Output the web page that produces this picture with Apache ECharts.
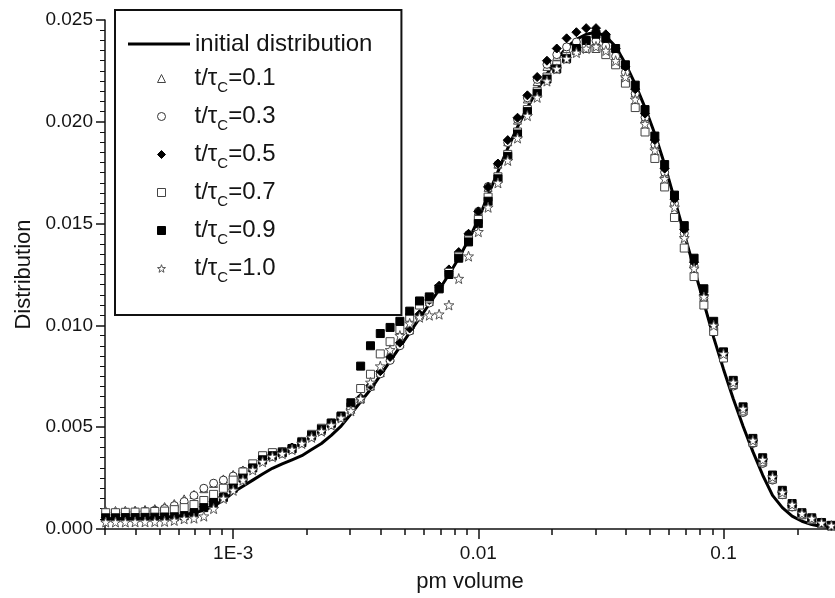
<!DOCTYPE html>
<html>
<head>
<meta charset="utf-8">
<script src="https://cdn.jsdelivr.net/npm/echarts/dist/echarts.min.js"></script>
<style>
html,body{margin:0;padding:0;background:#fff;}
#chart{width:835px;height:598px;}
</style>
</head>
<body>
<div id="chart"></div>
<script>
// ---- data ----
const xBins = [0.000302,0.000331,0.000363,0.000398,0.000437,0.000479,0.000525,0.000575,0.000631,0.000692,
  0.000759,0.000832,0.000912,0.001,0.001096,0.001202,0.001318,0.001445,0.001585,0.001738,
  0.001905,0.002089,0.002291,0.002512,0.002754,0.00302,0.003311,0.003631,0.003981,0.004365,
  0.004786,0.005248,0.005754,0.00631,0.006918,0.007586,0.008318,0.00912,0.01,0.01096,
  0.01202,0.01318,0.01445,0.01585,0.01738,0.01905,0.02089,0.02291,0.02512,0.02754,
  0.0302,0.03311,0.03631,0.03981,0.04365,0.04786,0.05248,0.05754,0.0631,0.06918,
  0.07586,0.08318,0.0912,0.1,0.1096,0.1202,0.1318,0.1445,0.1585,0.1738,
  0.1905,0.2089,0.2291,0.2512,0.2754];

const initialDist = [0.00050,0.00050,0.00051,0.00052,0.00053,0.00055,0.00058,0.00062,0.00068,0.00078,
  0.00093,0.00113,0.00140,0.00180,0.00210,0.00240,0.00270,0.00298,0.00320,0.00340,
  0.00360,0.00390,0.00420,0.00460,0.00505,0.00565,0.00625,0.00685,0.00755,0.00825,
  0.00895,0.00965,0.01035,0.01105,0.01175,0.01250,0.01330,0.01420,0.01520,0.01640,
  0.01755,0.01870,0.01975,0.02070,0.02155,0.02235,0.02305,0.02365,0.02405,0.02430,
  0.02440,0.02420,0.02370,0.02285,0.02185,0.02070,0.01940,0.01790,0.01620,0.01450,
  0.01280,0.01110,0.00940,0.00785,0.00640,0.00505,0.00380,0.00265,0.00165,0.00105,
  0.00063,0.00038,0.00022,0.00012,0.00007];

const t01 = [0.00090,0.00091,0.00092,0.00093,0.00096,0.00100,0.00110,0.00125,0.00148,0.00170,
  0.00198,0.00224,0.00246,0.00268,0.00290,0.00312,0.00338,0.00358,0.00374,0.00394,
  0.00424,0.00456,0.00484,0.00516,0.00552,0.00588,0.00640,0.00702,0.00768,0.00842,
  0.00912,0.00978,0.01052,0.01118,0.01192,0.01272,0.01358,0.01452,0.01562,0.01678,
  0.01792,0.01902,0.02008,0.02112,0.02198,0.02272,0.02322,0.02356,0.02378,0.02392,
  0.02388,0.02366,0.02318,0.02238,0.02142,0.02018,0.01892,0.01748,0.01602,0.01448,
  0.01298,0.01142,0.00988,0.00852,0.00708,0.00582,0.00430,0.00330,0.00248,0.00172,
  0.00112,0.00072,0.00048,0.00028,0.00016];

const t03 = [0.00080,0.00080,0.00082,0.00084,0.00087,0.00092,0.00100,0.00115,0.00135,0.00165,
  0.00200,0.00225,0.00240,0.00260,0.00285,0.00310,0.00340,0.00362,0.00380,0.00400,
  0.00430,0.00460,0.00490,0.00520,0.00548,0.00592,0.00638,0.00698,0.00762,0.00828,
  0.00900,0.00972,0.01042,0.01110,0.01186,0.01266,0.01350,0.01446,0.01560,0.01682,
  0.01790,0.01898,0.02012,0.02118,0.02208,0.02282,0.02330,0.02368,0.02392,0.02402,
  0.02398,0.02372,0.02322,0.02242,0.02138,0.02022,0.01888,0.01752,0.01598,0.01452,
  0.01292,0.01132,0.00982,0.00840,0.00702,0.00572,0.00420,0.00322,0.00240,0.00168,
  0.00108,0.00068,0.00045,0.00026,0.00014];

const t05 = [0.00058,0.00058,0.00057,0.00058,0.00058,0.00059,0.00058,0.00059,0.00060,0.00080,
  0.00110,0.00135,0.00160,0.00220,0.00270,0.00310,0.00345,0.00365,0.00380,0.00400,
  0.00425,0.00455,0.00485,0.00515,0.00550,0.00590,0.00645,0.00705,0.00775,0.00845,
  0.00915,0.00985,0.01055,0.01125,0.01195,0.01275,0.01360,0.01450,0.01560,0.01680,
  0.01795,0.01910,0.02020,0.02130,0.02220,0.02300,0.02360,0.02410,0.02440,0.02460,
  0.02460,0.02430,0.02360,0.02270,0.02160,0.02040,0.01910,0.01770,0.01620,0.01470,
  0.01310,0.01150,0.01000,0.00860,0.00720,0.00590,0.00435,0.00340,0.00255,0.00180,
  0.00115,0.00074,0.00050,0.00030,0.00016];

const t07 = [0.00080,0.00080,0.00082,0.00083,0.00084,0.00086,0.00088,0.00095,0.00105,0.00120,
  0.00140,0.00170,0.00200,0.00240,0.00280,0.00320,0.00360,0.00375,0.00380,0.00395,
  0.00430,0.00465,0.00495,0.00520,0.00550,0.00600,0.00690,0.00760,0.00860,0.00920,
  0.00980,0.01040,0.01100,0.01130,0.01180,0.01260,0.01340,0.01420,0.01520,0.01630,
  0.01730,0.01840,0.01950,0.02060,0.02150,0.02220,0.02280,0.02320,0.02350,0.02360,
  0.02360,0.02330,0.02280,0.02190,0.02070,0.01950,0.01820,0.01680,0.01530,0.01380,
  0.01240,0.01100,0.00970,0.00840,0.00710,0.00580,0.00425,0.00330,0.00245,0.00170,
  0.00110,0.00070,0.00046,0.00026,0.00015];

const t09 = [0.00055,0.00055,0.00056,0.00056,0.00057,0.00058,0.00059,0.00060,0.00065,0.00080,
  0.00105,0.00130,0.00155,0.00200,0.00250,0.00300,0.00340,0.00360,0.00375,0.00395,
  0.00425,0.00460,0.00490,0.00520,0.00555,0.00620,0.00800,0.00900,0.00960,0.00990,
  0.01020,0.01070,0.01120,0.01140,0.01180,0.01250,0.01330,0.01410,0.01500,0.01610,
  0.01720,0.01830,0.01940,0.02050,0.02140,0.02210,0.02260,0.02310,0.02360,0.02400,
  0.02430,0.02410,0.02360,0.02280,0.02180,0.02060,0.01930,0.01790,0.01640,0.01490,
  0.01330,0.01180,0.01020,0.00870,0.00730,0.00600,0.00445,0.00350,0.00265,0.00190,
  0.00125,0.00080,0.00055,0.00032,0.00018];

const t10 = [0.00034,0.00034,0.00034,0.00035,0.00035,0.00036,0.00037,0.00042,0.00050,0.00053,
  0.00063,0.00100,0.00150,0.00190,0.00240,0.00290,0.00330,0.00355,0.00370,0.00390,
  0.00420,0.00450,0.00480,0.00510,0.00545,0.00580,0.00640,0.00720,0.00800,0.00880,
  0.00950,0.01010,0.01040,0.01050,0.01055,0.01100,0.01230,0.01340,0.01460,0.01580,
  0.01700,0.01810,0.01920,0.02030,0.02120,0.02200,0.02260,0.02310,0.02340,0.02360,
  0.02370,0.02350,0.02300,0.02220,0.02110,0.01990,0.01860,0.01720,0.01580,0.01430,
  0.01280,0.01140,0.01000,0.00860,0.00720,0.00590,0.00435,0.00340,0.00255,0.00180,
  0.00120,0.00076,0.00052,0.00030,0.00017];

const tLabels = ['0.1', '0.3', '0.5', '0.7', '0.9', '1.0'];
const lineName = 'initial distribution';
const xTickValues = [0.001, 0.01, 0.1];
const xTickLabels = ['1E-3', '0.01', '0.1'];
const xMinorTicks = [0.0003,0.0004,0.0005,0.0006,0.0007,0.0008,0.0009,
  0.002,0.003,0.004,0.005,0.006,0.007,0.008,0.009,
  0.02,0.03,0.04,0.05,0.06,0.07,0.08,0.09,0.2];
const xAxisTitle = 'pm volume';
const yAxisTitle = 'Distribution';

// ---- chart ----
const FONT = '"Liberation Sans", Arial, sans-serif';
const INK = '#141414';
const starPath = 'path://M0,-10L2.35,-3.24L9.51,-3.09L3.8,1.24L5.88,8.09L0,4.2L-5.88,8.09L-3.8,1.24L-9.51,-3.09L-2.35,-3.24Z';

function pairs(ys) { return xBins.map((x, i) => [x, ys[i]]); }

const seriesValues = [t01, t03, t05, t07, t09, t10];
const markerStyles = [
  { symbol: 'triangle', size: 8, fill: '#fff', stroke: '#444' },
  { symbol: 'circle', size: 8, fill: '#fff', stroke: '#333' },
  { symbol: 'diamond', size: 9, fill: '#000', stroke: '#000' },
  { symbol: 'rect', size: 8, fill: '#fff', stroke: '#444' },
  { symbol: 'rect', size: 8, fill: '#000', stroke: '#000' },
  { symbol: starPath, size: 10, fill: '#fff', stroke: '#555' }
];
const seriesNames = tLabels.map(t => 't/τc=' + t);

const series = [{
  name: lineName,
  type: 'line',
  data: pairs(initialDist),
  symbol: 'none',
  showSymbol: false,
  lineStyle: { color: '#000', width: 3 },
  itemStyle: { color: '#000' },
  z: 1,
  silent: true
}];
seriesValues.forEach((vals, i) => {
  const st = markerStyles[i];
  series.push({
    name: seriesNames[i],
    type: 'scatter',
    data: pairs(vals),
    symbol: st.symbol,
    symbolSize: st.size,
    itemStyle: { color: st.fill, borderColor: st.stroke, borderWidth: 1, opacity: 1 },
    z: 2 + i,
    silent: true
  });
});

const richText = {
  a: { fontFamily: FONT, fontSize: 24, lineHeight: 26, color: INK, verticalAlign: 'middle' },
  s: { fontFamily: FONT, fontSize: 15, lineHeight: 16, color: INK, padding: [18, 0, 0, 0], verticalAlign: 'middle' }
};

const chart = echarts.init(document.getElementById('chart'), null, { renderer: 'canvas' });
chart.setOption({
  animation: false,
  backgroundColor: '#fff',
  textStyle: { fontFamily: FONT, color: INK },
  grid: { left: 105, right: 0, top: 20, bottom: 63, containLabel: false },
  legend: [{
    // framed box with the line entry
    orient: 'vertical',
    left: 115,
    top: 10,
    z: 4,
    padding: [22, 29, 259, 13],
    itemWidth: 62,
    itemHeight: 3,
    selectedMode: false,
    borderColor: '#111',
    borderWidth: 2,
    backgroundColor: '#fff',
    itemStyle: { borderWidth: 0 },
    data: [{ name: lineName, icon: 'rect' }],
    formatter: function (name) { return '{a|' + name + '}'; },
    textStyle: { fontFamily: FONT, fontSize: 24, color: INK, rich: richText }
  }, {
    // marker entries inside the same frame
    orient: 'vertical',
    left: 157,
    top: 62,
    z: 6,
    padding: 0,
    itemWidth: 8,
    itemHeight: 8,
    itemGap: 5,
    selectedMode: false,
    itemStyle: { borderWidth: 1 },
    data: seriesNames,
    formatter: function (name) {
      const i = seriesNames.indexOf(name);
      return '{a|t/τ}{s|C}{a|=' + tLabels[i] + '}';
    },
    textStyle: { fontFamily: FONT, fontSize: 24, color: INK, padding: [0, 0, 0, 24], rich: richText }
  }],
  xAxis: [{
    type: 'log',
    min: 0.0003,
    max: 0.285,
    position: 'bottom',
    name: xAxisTitle,
    nameLocation: 'middle',
    nameGap: 42,
    nameTextStyle: { fontFamily: FONT, fontSize: 22, color: INK },
    axisLine: { show: true, lineStyle: { color: '#111', width: 1.5 } },
    axisTick: { show: true, inside: false, length: 10, customValues: xTickValues, lineStyle: { color: '#111', width: 1.5 } },
    axisLabel: {
      show: true, margin: 15, fontFamily: FONT, fontSize: 19, color: INK,
      customValues: xTickValues,
      formatter: function (v) {
        const i = xTickValues.findIndex(t => Math.abs(t - v) < t * 1e-6);
        return i >= 0 ? xTickLabels[i] : '';
      }
    },
    splitLine: { show: false },
    minorTick: { show: false }
  }, {
    type: 'log',
    min: 0.0003,
    max: 0.285,
    position: 'bottom',
    axisLine: { show: false },
    axisTick: { show: true, inside: false, length: 6, customValues: xMinorTicks, lineStyle: { color: '#111', width: 1.5 } },
    axisLabel: { show: false },
    splitLine: { show: false }
  }],
  yAxis: {
    type: 'value',
    min: 0,
    max: 0.025,
    interval: 0.005,
    name: yAxisTitle,
    nameLocation: 'middle',
    nameGap: 70,
    nameTextStyle: { fontFamily: FONT, fontSize: 22, color: INK },
    axisLine: { show: true, lineStyle: { color: '#111', width: 1.5 } },
    axisTick: { show: true, inside: false, length: 9, lineStyle: { color: '#111', width: 1.5 } },
    minorTick: { show: true, splitNumber: 10, length: 5, lineStyle: { color: '#111', width: 1 } },
    axisLabel: {
      margin: 12, fontFamily: FONT, fontSize: 19, color: INK,
      formatter: function (v) { return v.toFixed(3); }
    },
    splitLine: { show: false },
    minorSplitLine: { show: false }
  },
  series: series
});
</script>
</body>
</html>
